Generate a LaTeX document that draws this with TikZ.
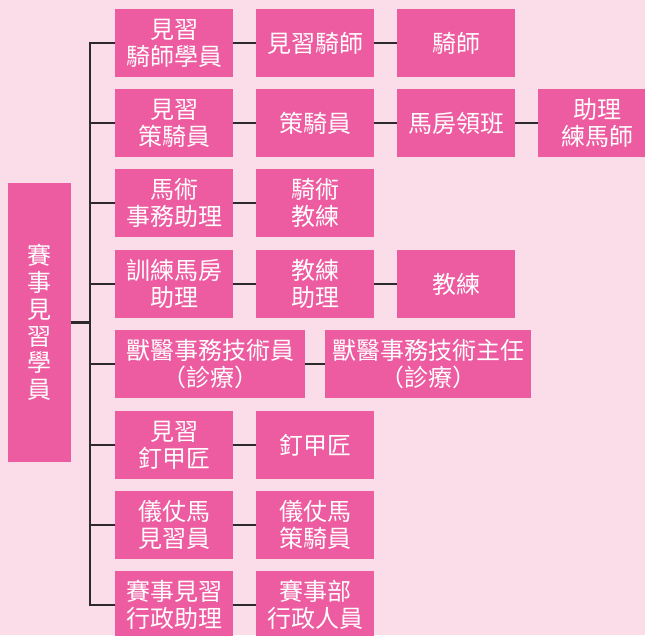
\documentclass[tikz,border=0pt]{standalone}
\usepackage{fontspec}
\newfontfamily\cjk{Noto Sans CJK TC}
\definecolor{bgpink}{RGB}{250,221,232}
\definecolor{boxpink}{RGB}{237,92,160}
\definecolor{linegray}{RGB}{45,42,43}
\tikzset{
  box/.style={fill=boxpink, text=white, inner sep=0pt, align=center,
    minimum height=68pt, minimum width=118pt,
    font=\cjk\fontsize{24}{27}\selectfont},
  conn/.style={draw=linegray, line width=2.6pt},
}
\begin{document}
\begin{tikzpicture}[x=1pt,y=-1pt]
\fill[bgpink] (0,0) rectangle (645,635);
\useasboundingbox (0,0) rectangle (645,635);
% root
\node[box, minimum width=63pt, minimum height=279pt, font=\cjk\fontsize{24}{26.7}\selectfont] (root) at (39.5,322.5) {賽\\事\\見\\習\\學\\員};
% row 1
\node[box] (r1a) at (174,43) {見習\\騎師學員};
\node[box] (r1b) at (315,43) {見習騎師};
\node[box] (r1c) at (456,43) {騎師};
% row 2
\node[box] (r2a) at (174,123) {見習\\策騎員};
\node[box] (r2b) at (315,123) {策騎員};
\node[box] (r2c) at (456,123) {馬房領班};
\node[box] (r2d) at (597,123) {助理\\練馬師};
% row 3
\node[box] (r3a) at (174,203) {馬術\\事務助理};
\node[box] (r3b) at (315,203) {騎術\\教練};
% row 4
\node[box] (r4a) at (174,284) {訓練馬房\\助理};
\node[box] (r4b) at (315,284) {教練\\助理};
\node[box] (r4c) at (456,284) {教練};
% row 5
\node[box, minimum width=190pt] (r5a) at (210,364) {獸醫事務技術員\\（診療）};
\node[box, minimum width=206pt] (r5b) at (428,364) {獸醫事務技術主任\\（診療）};
% row 6
\node[box] (r6a) at (174,445) {見習\\釘甲匠};
\node[box] (r6b) at (315,445) {釘甲匠};
% row 7
\node[box] (r7a) at (174,525) {儀仗馬\\見習員};
\node[box] (r7b) at (315,525) {儀仗馬\\策騎員};
% row 8
\node[box] (r8a) at (174,605) {賽事見習\\行政助理};
\node[box] (r8b) at (315,605) {賽事部\\行政人員};
% trunk
\coordinate (tt) at (90,43);
\coordinate (tb) at (90,605);
\draw[conn, line cap=rect] (tt) -- (tb);
\draw[conn] (root.east) -- (root.east -| tt);
\foreach \n in {r1a,r2a,r3a,r4a,r5a,r6a,r7a,r8a}
  \draw[conn] (\n.west -| tt) -- (\n.west);
% row links
\draw[conn] (r1a) -- (r1b);
\draw[conn] (r1b) -- (r1c);
\draw[conn] (r2a) -- (r2b);
\draw[conn] (r2b) -- (r2c);
\draw[conn] (r2c) -- (r2d);
\draw[conn] (r3a) -- (r3b);
\draw[conn] (r4a) -- (r4b);
\draw[conn] (r4b) -- (r4c);
\draw[conn] (r5a) -- (r5b);
\draw[conn] (r6a) -- (r6b);
\draw[conn] (r7a) -- (r7b);
\draw[conn] (r8a) -- (r8b);
\end{tikzpicture}
\end{document}
